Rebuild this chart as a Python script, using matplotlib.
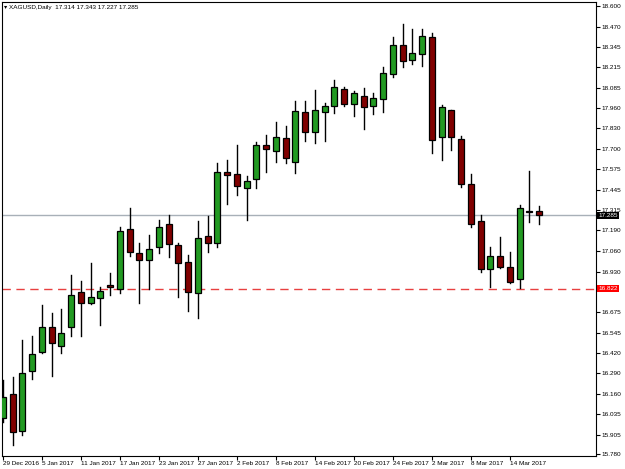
import matplotlib.pyplot as plt

plt.rcParams["font.family"] = ["Liberation Sans", "DejaVu Sans"]

# XAGUSD daily candles, 29 Dec 2016 .. 15 Mar 2017
opens = [16.010, 16.161, 15.928, 16.305, 16.425, 16.582, 16.463, 16.582, 16.802, 16.733,
         16.765, 16.846, 16.821, 17.199, 17.048, 17.004, 17.085, 17.230, 17.098, 16.991,
         16.796, 17.155, 17.111, 17.557, 17.545, 17.456, 17.513, 17.727, 17.689, 17.771,
         17.620, 17.935, 17.809, 17.935, 17.972, 18.079, 17.985, 18.035, 17.972, 18.016,
         18.174, 18.356, 18.262, 18.299, 18.406, 17.777, 17.947, 17.765, 17.482, 17.249,
         16.947, 17.029, 16.960, 16.884, 17.312, 17.314]
highs = [16.249, 16.268, 16.500, 16.526, 16.721, 16.670, 16.695, 16.909, 16.872, 16.985,
         16.834, 16.922, 17.211, 17.331, 17.111, 17.161, 17.255, 17.287, 17.111, 17.035,
         17.249, 17.280, 17.614, 17.633, 17.727, 17.532, 17.746, 17.790, 17.872, 17.846,
         18.004, 18.004, 18.073, 17.991, 18.136, 18.092, 18.067, 18.085, 18.054, 18.218,
         18.406, 18.488, 18.457, 18.457, 18.431, 17.979, 17.947, 17.784, 17.545, 17.287,
         17.085, 17.148, 17.054, 17.350, 17.563, 17.343]
lows = [15.985, 15.840, 15.903, 16.255, 16.419, 16.274, 16.419, 16.526, 16.526, 16.727,
        16.595, 16.783, 16.796, 17.029, 16.733, 16.821, 17.048, 17.022, 16.771, 16.683,
        16.639, 17.054, 17.085, 17.356, 17.412, 17.255, 17.456, 17.557, 17.620, 17.614,
        17.551, 17.752, 17.740, 17.752, 17.928, 17.972, 17.909, 17.828, 17.922, 17.935,
        18.155, 18.218, 18.236, 18.224, 17.677, 17.633, 17.696, 17.463, 17.211, 16.928,
        16.834, 16.953, 16.859, 16.828, 17.243, 17.227]
closes = [16.142, 15.922, 16.293, 16.412, 16.582, 16.482, 16.544, 16.783, 16.733, 16.771,
          16.809, 16.834, 17.186, 17.054, 17.004, 17.073, 17.211, 17.104, 16.985, 16.802,
          17.142, 17.111, 17.557, 17.538, 17.469, 17.501, 17.727, 17.702, 17.777, 17.645,
          17.941, 17.809, 17.947, 17.972, 18.092, 17.985, 18.054, 17.966, 18.023, 18.180,
          18.356, 18.255, 18.306, 18.413, 17.758, 17.966, 17.777, 17.482, 17.230, 16.947,
          17.029, 16.960, 16.865, 17.331, 17.306, 17.285]

date_labels = ["29 Dec 2016", "5 Jan 2017", "11 Jan 2017", "17 Jan 2017", "23 Jan 2017",
               "27 Jan 2017", "2 Feb 2017", "8 Feb 2017", "14 Feb 2017", "20 Feb 2017",
               "24 Feb 2017", "2 Mar 2017", "8 Mar 2017", "14 Mar 2017"]
price_ticks = [18.600, 18.470, 18.345, 18.215, 18.085, 17.960, 17.830, 17.700, 17.575,
               17.445, 17.315, 17.190, 17.060, 16.930, 16.805, 16.675, 16.545, 16.420,
               16.290, 16.160, 16.035, 15.905, 15.780]
last_price = 17.285
level = 16.822

fig = plt.figure(figsize=(6.25, 4.69), dpi=100)
ax = fig.add_axes([0.003, 0.028, 0.950, 0.968])

bull, bear = "#229a22", "#800000"
for i, (o, h, l, c) in enumerate(zip(opens, highs, lows, closes)):
    ax.plot([i, i], [l, h], color="black", lw=1, zorder=2)
    lo, hi = min(o, c), max(o, c)
    ax.bar(i, max(hi - lo, 0.004), bottom=lo, width=0.62,
           color=bull if c > o else bear, edgecolor="black", lw=0.9, zorder=3)

ax.axhline(last_price, color="#a8b0b8", lw=1, zorder=1)
ax.axhline(level, color="#e84040", lw=1, ls=(0, (6, 4)), zorder=1)

ax.set_xlim(-0.1, 60.8)
ax.set_ylim(15.771, 18.626)

fs = 4.6
ax.yaxis.tick_right()
ax.set_yticks([p for p in price_ticks if p != 16.805])
ax.set_yticklabels([f"{p:.3f}" for p in price_ticks if p != 16.805])
ax.tick_params(axis="y", labelsize=fs, length=3, pad=1.5)
ax.set_xticks(range(0, 53, 4))
ax.set_xticklabels(date_labels, ha="left")
ax.tick_params(axis="x", labelsize=fs, length=3, pad=1)
for s in ax.spines.values():
    s.set_linewidth(0.8)

for val, bg in [(last_price, "black"), (level, "#ff0000")]:
    ax.annotate(f"{val:.3f}", xy=(1, val), xycoords=("axes fraction", "data"),
                xytext=(2, 0), textcoords="offset points", va="center", ha="left",
                fontsize=fs, color="white",
                bbox=dict(boxstyle="square,pad=0.15", fc=bg, ec="none"))

ax.text(0.004, 0.993, "\u25be XAGUSD,Daily  17.314 17.343 17.227 17.285", transform=ax.transAxes,
        fontsize=fs, va="top", ha="left")

fig.savefig("out.png", dpi=100)
